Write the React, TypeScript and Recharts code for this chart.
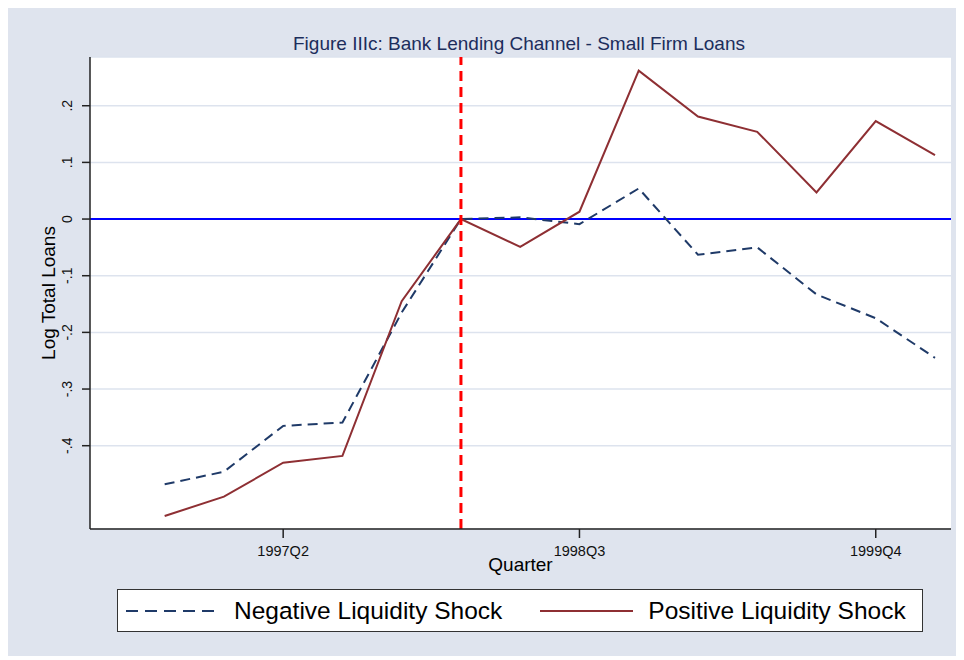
import React from 'react'
import { LineChart, Line, XAxis, YAxis, CartesianGrid, ReferenceLine, Legend } from 'recharts'

// quarters 1996Q4 .. 2000Q1, x value = index
const QUARTERS = [
  '1996Q4', '1997Q1', '1997Q2', '1997Q3', '1997Q4', '1998Q1', '1998Q2',
  '1998Q3', '1998Q4', '1999Q1', '1999Q2', '1999Q3', '1999Q4', '2000Q1',
]
const NEGATIVE = [-0.468, -0.446, -0.365, -0.359, -0.165, 0, 0.003, -0.009, 0.054, -0.063, -0.05, -0.133, -0.175, -0.245]
const POSITIVE = [-0.524, -0.49, -0.43, -0.418, -0.145, 0, -0.049, 0.013, 0.262, 0.181, 0.154, 0.047, 0.173, 0.113]
const X_TICKS = [2, 7, 12]
const Y_TICKS = [-0.4, -0.3, -0.2, -0.1, 0, 0.1, 0.2]
const SHOCK_QUARTER = 5

const FONT = '"Liberation Sans", Arial, sans-serif'
const NEG_COLOR = '#1f3a68'
const POS_COLOR = '#8e2f33'

const data = QUARTERS.map((q, i) => ({ x: i, quarter: q, neg: NEGATIVE[i], pos: POSITIVE[i] }))

function fmtY(v: number): string {
  if (v === 0) return '0'
  return v.toFixed(1).replace('0.', '.')
}

function YTick(props: any) {
  const { x, y, payload } = props
  return (
    <text
      x={x}
      y={y}
      transform={`rotate(-90, ${x}, ${y})`}
      textAnchor="middle"
      fontSize={14}
      fontFamily={FONT}
      fill="#111"
    >
      {fmtY(payload.value)}
    </text>
  )
}

function LegendBox() {
  return (
    <div
      style={{
        width: 804,
        height: 41,
        border: '1px solid #333',
        background: '#fff',
        display: 'flex',
        alignItems: 'center',
        fontFamily: FONT,
        fontSize: 24.5,
        color: '#000',
      }}
    >
      <svg width={108} height={20} style={{ marginLeft: 8 }}>
        <line x1={0} y1={10} x2={94} y2={10} stroke={NEG_COLOR} strokeWidth={2} strokeDasharray="12 7" />
      </svg>
      <span>Negative Liquidity Shock</span>
      <svg width={108} height={20} style={{ marginLeft: 38 }}>
        <line x1={0} y1={10} x2={93} y2={10} stroke={POS_COLOR} strokeWidth={2} />
      </svg>
      <span>Positive Liquidity Shock</span>
    </div>
  )
}

export default function App() {
  return (
    <div style={{ width: 950, height: 648, background: '#dfe4ee', position: 'relative' }}>
      <LineChart width={950} height={648} data={data} margin={{ top: 49, right: 7, bottom: 87, left: 22 }}>
        <text x={511} y={42} textAnchor="middle" fontSize={19} fontFamily={FONT} fill="#1c2d5c">
          Figure IIIc: Bank Lending Channel - Small Firm Loans
        </text>
        <CartesianGrid vertical={false} stroke="#dde3ee" strokeWidth={1.5} fill="#ffffff" />
        <XAxis
          dataKey="x"
          type="number"
          domain={[-1.26, 13.27]}
          allowDataOverflow
          ticks={X_TICKS}
          tickFormatter={(v: number) => QUARTERS[v]}
          tickSize={9}
          tickMargin={8}
          height={40}
          stroke="#222"
          strokeWidth={1.5}
          tick={{ fontSize: 14.5, fontFamily: FONT, fill: '#111' }}
          label={{ value: 'Quarter', position: 'insideBottom', offset: -2, fontSize: 19, fontFamily: FONT, fill: '#000' }}
        />
        <YAxis
          type="number"
          domain={[-0.547, 0.286]}
          allowDataOverflow
          ticks={Y_TICKS}
          width={60}
          tickSize={8}
          tickMargin={10}
          stroke="#222"
          strokeWidth={1.5}
          tick={<YTick />}
          label={{
            content: ({ viewBox }: any) => {
              const cx = 40
              const cy = viewBox.y + viewBox.height / 2
              return (
                <text
                  x={cx}
                  y={cy}
                  transform={`rotate(-90, ${cx}, ${cy})`}
                  textAnchor="middle"
                  dominantBaseline="central"
                  fontSize={19}
                  fontFamily={FONT}
                  fill="#000"
                >
                  Log Total Loans
                </text>
              )
            },
          }}
        />
        <ReferenceLine y={0} stroke="#0000ff" strokeWidth={2} />
        <Line
          dataKey="neg"
          type="linear"
          stroke={NEG_COLOR}
          strokeWidth={2}
          strokeDasharray="10 6"
          dot={false}
          isAnimationActive={false}
        />
        <Line dataKey="pos" type="linear" stroke={POS_COLOR} strokeWidth={2} dot={false} isAnimationActive={false} />
        <ReferenceLine x={SHOCK_QUARTER} stroke="#ff0000" strokeWidth={3} strokeDasharray="10 6" />
        <Legend
          layout="vertical"
          verticalAlign="middle"
          align="center"
          wrapperStyle={{ position: 'absolute', left: 109, top: 581, width: 806, height: 43 }}
          content={() => <LegendBox />}
        />
      </LineChart>
    </div>
  )
}
